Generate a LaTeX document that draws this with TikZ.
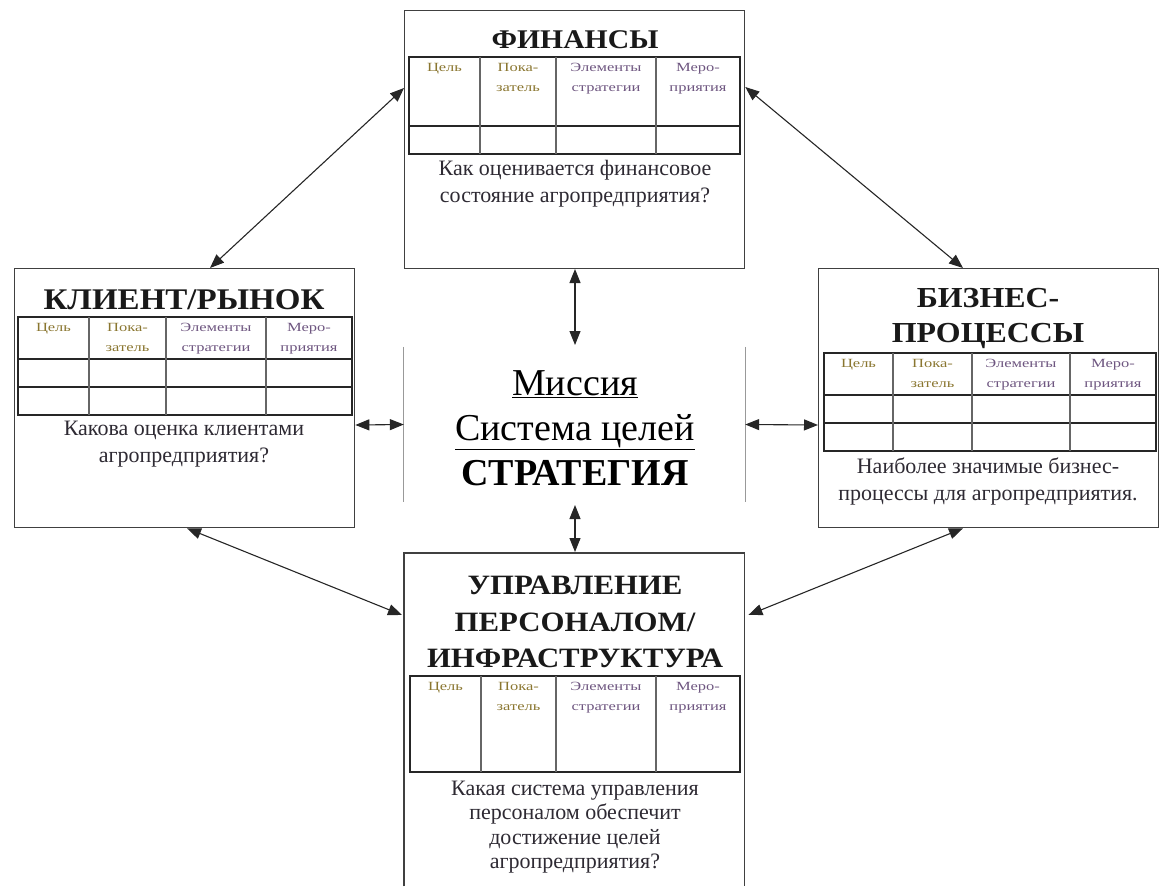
\documentclass[tikz,border=0pt]{standalone}
\usepackage{graphicx}
\usepackage{fontspec}
\setmainfont{Liberation Serif}
\usetikzlibrary{arrows.meta,calc}
\definecolor{hdA}{HTML}{8A7630}
\definecolor{hdB}{HTML}{6E5680}
\definecolor{qtxt}{HTML}{2E2A33}
\newcommand{\hx}[1]{\scalebox{1.32}[1]{#1}}
\newcommand{\tx}[1]{\scalebox{1.1}[1]{#1}}
\tikzset{
  panel/.style={draw=black!75,line width=1.3pt,anchor=north west,inner sep=0pt,minimum width=340pt},
  tbl/.style={draw=black!85,line width=1.1pt},
  tblv/.style={draw=black!60,line width=1.1pt},
  hd/.style={font=\fontsize{12.5}{20}\selectfont,align=center,anchor=north,inner sep=0pt},
  ttl/.style={align=center,inner sep=0pt,text=black!90},
  qst/.style={font=\fontsize{22}{27}\selectfont,align=center,inner sep=0pt,text=qtxt},
  link/.style={draw=black!85,line width=1.1pt,{Triangle[length=14pt,width=11pt]}-{Triangle[length=14pt,width=11pt]}},
  side/.style={draw=black!40,line width=1.3pt}
}
\newcommand{\mytable}[8]{%
  \draw[tbl] (#1,#6) rectangle (#5,#8);
  \foreach \yy in {#7} \draw[tbl] (#1,\yy) -- (#5,\yy);
  \foreach \xx in {#2,#3,#4} \draw[tblv] (\xx,#6) -- (\xx,#8);
  \node[hd,text=hdA] at ({(#1+#2)/2},#6+6) {\hx{Цель}};
  \node[hd,text=hdA] at ({(#2+#3)/2},#6+6) {\hx{Пока-}\\\hx{затель}};
  \node[hd,text=hdB] at ({(#3+#4)/2},#6+6) {\hx{Элементы}\\\hx{стратегии}};
  \node[hd,text=hdB] at ({(#4+#5)/2},#6+6) {\hx{Меро-}\\\hx{приятия}};
}
\begin{document}
\begin{tikzpicture}[x=1pt,y=-1pt]
\useasboundingbox (0,0) rectangle (1161,886);
% panels
\node[panel,minimum height=258pt] (fin) at (404,10) {};
\node[panel,minimum height=259pt] (cli) at (14,268) {};
\node[panel,minimum height=259pt] (biz) at (818,268) {};
\node[anchor=north west,inner sep=0pt,minimum width=340pt,minimum height=333pt] (upr) at (404,553) {};
\draw[draw=black!75,line width=1.3pt] (upr.south west) -- (upr.north west) -- (upr.north east) -- (upr.south east);
% titles
\node[ttl,font=\bfseries\fontsize{27}{36}\selectfont] (finT) at (575,40) {\tx{ФИНАНСЫ}};
\node[ttl,font=\bfseries\fontsize{30}{36}\selectfont] (cliT) at (184,300) {\tx{КЛИЕНТ/РЫНОК}};
\node[ttl,font=\bfseries\fontsize{29}{35}\selectfont] (bizT) at (988,318) {\tx{БИЗНЕС-}\\\tx{ПРОЦЕССЫ}};
\node[ttl,font=\bfseries\fontsize{28}{36.5}\selectfont] (uprT) at (575,622) {\tx{УПРАВЛЕНИЕ}\\\tx{ПЕРСОНАЛОМ/}\\\tx{ИНФРАСТРУКТУРА}};
% tables
\mytable{409}{480}{556}{656}{740}{57}{126}{154}
\mytable{18}{89}{166}{266}{352}{317}{359,387}{415}
\mytable{824}{893}{972}{1070}{1156}{353}{395,423}{451}
\mytable{410}{481}{556}{656}{740}{676}{772}{772}
% questions
\node[qst] (finQ) at (575,184) {Как оценивается финансовое\\состояние агропредприятия?};
\node[qst] (cliQ) at (184,444) {Какова оценка клиентами\\агропредприятия?};
\node[qst] (bizQ) at (988,481) {Наиболее значимые бизнес-\\процессы для агропредприятия.};
\node[qst,font=\fontsize{22}{24.5}\selectfont] (uprQ) at (575,827) {Какая система управления\\персоналом обеспечит\\достижение целей\\агропредприятия?};
% center
\node[inner sep=0pt,minimum width=341pt,minimum height=155pt] (cen) at (574.5,424.5) {};
\draw[side] (cen.north west) -- (cen.south west);
\draw[side] (cen.north east) -- (cen.south east);
\node[font=\fontsize{38}{45}\selectfont,align=center,inner sep=0pt] (cenT) at (575,428)
  {\underline{Миссия}\\\underline{Система целей}\\\textbf{СТРАТЕГИЯ}};
% connector points
\coordinate (cTop) at (575,345);
\coordinate (cBot) at (575,505);
\coordinate (cL) at (cen.west);
\coordinate (cR) at (cen.east);
\coordinate (finS) at (575,269);
\coordinate (uprN) at (575,552);
\coordinate (finW) at ($(fin.north west)+(0,78)$);
\coordinate (finE) at ($(fin.north east)+(0,77)$);
\coordinate (cliN) at ($(cli.north west)+(196,0)$);
\coordinate (cliS) at ($(cli.south west)+(173,0)$);
\coordinate (cliE) at ($(cli.north east)+(0,157)$);
\coordinate (bizN) at ($(biz.north west)+(145,0)$);
\coordinate (bizS) at ($(biz.south west)+(145,0)$);
\coordinate (bizW) at ($(biz.north west)+(0,157)$);
\coordinate (uprW) at ($(upr.north west)+(-2,62)$);
\coordinate (uprE) at ($(upr.north east)+(4,62)$);
% connectors
\draw[link] (finS) -- (cTop);
\draw[link] (cBot) -- (uprN);
\draw[link] (cliE) -- (cL);
\draw[link] (cR) -- (bizW);
\draw[link] (finW) -- (cliN);
\draw[link] (finE) -- (bizN);
\draw[link] (cliS) -- (uprW);
\draw[link] (bizS) -- (uprE);
\end{tikzpicture}
\end{document}
